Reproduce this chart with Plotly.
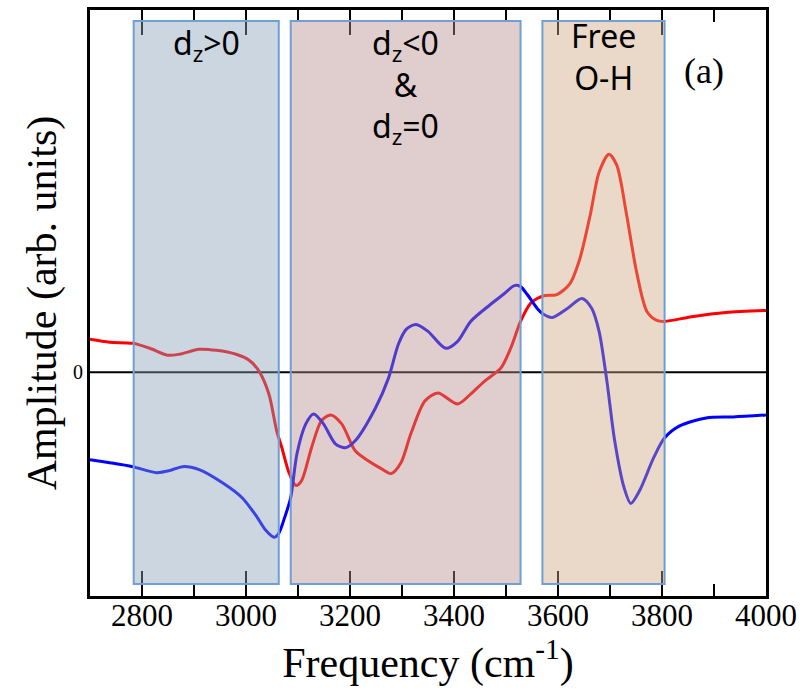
import plotly.graph_objects as go

# Spectra (frequency in cm^-1, amplitude in arbitrary units)
red_freq = [2700, 2738, 2782, 2815, 2849, 2872, 2910, 2943, 2981, 3006, 3025, 3044,
            3059, 3069, 3082, 3096, 3107, 3126, 3145, 3163, 3184, 3210, 3235, 3260,
            3279, 3298, 3317, 3344, 3369, 3407, 3432, 3459, 3490, 3509, 3528, 3547,
            3560, 3575, 3598, 3623, 3642, 3662, 3679, 3698, 3713, 3732, 3751, 3771,
            3790, 3805, 3860, 3923, 4000]
red_amp = [0.33, 0.30, 0.29, 0.24, 0.17, 0.18, 0.23, 0.22, 0.18, 0.12, 0.01, -0.22,
           -0.59, -0.76, -1.00, -1.14, -1.09, -0.76, -0.49, -0.43, -0.52, -0.79, -0.89, -0.97,
           -1.02, -0.91, -0.62, -0.29, -0.21, -0.32, -0.22, -0.09, 0.04, 0.24, 0.51, 0.69,
           0.74, 0.77, 0.78, 0.89, 1.14, 1.58, 2.01, 2.19, 2.08, 1.58, 1.01, 0.61,
           0.52, 0.51, 0.56, 0.60, 0.62]

blue_freq = [2700, 2738, 2782, 2828, 2853, 2878, 2910, 2954, 2992, 3019, 3038, 3054,
             3063, 3075, 3086, 3098, 3115, 3130, 3149, 3172, 3191, 3210, 3249, 3274,
             3293, 3308, 3327, 3350, 3384, 3407, 3432, 3470, 3497, 3516, 3528, 3541,
             3560, 3570, 3589, 3618, 3646, 3665, 3679, 3694, 3709, 3727, 3740, 3757,
             3784, 3805, 3834, 3885, 3937, 4000]
blue_amp = [-0.88, -0.91, -0.95, -1.01, -0.99, -0.95, -0.98, -1.11, -1.26, -1.44, -1.59, -1.66,
            -1.62, -1.45, -1.26, -0.82, -0.52, -0.42, -0.52, -0.72, -0.76, -0.69, -0.36, -0.06,
            0.28, 0.43, 0.48, 0.41, 0.24, 0.31, 0.51, 0.68, 0.79, 0.87, 0.86, 0.78,
            0.64, 0.59, 0.55, 0.64, 0.74, 0.64, 0.41, -0.09, -0.69, -1.16, -1.32, -1.19,
            -0.86, -0.66, -0.54, -0.46, -0.45, -0.43]

# Spectral regions: start, end, fill colour and label
region_start = [2784, 3086, 3570]
region_end = [3063, 3528, 3805]
region_fill = ["rgb(134,160,185)", "rgb(183,140,140)", "rgb(206,164,127)"]
region_label = ["d<sub>z</sub>>0",
                "d<sub>z</sub><0<br>&<br>d<sub>z</sub>=0",
                "Free<br>O-H"]

x_ticks = [2800, 3000, 3200, 3400, 3600, 3800, 4000]
y_lo, y_hi = -2.25, 3.64
box_lo, box_hi = -2.13, 3.53

serif = "Liberation Serif"
sans = "Noto Sans"

fig = go.Figure()

# zero reference line
fig.add_trace(go.Scatter(x=[2700, 4000], y=[0, 0], mode="lines",
                         line=dict(color="black", width=2), hoverinfo="skip",
                         showlegend=False))

fig.add_trace(go.Scatter(x=red_freq, y=red_amp, mode="lines",
                         line=dict(color="#ff0000", width=3, shape="spline", smoothing=0.8),
                         showlegend=False))
fig.add_trace(go.Scatter(x=blue_freq, y=blue_amp, mode="lines",
                         line=dict(color="#0000ff", width=3, shape="spline", smoothing=0.8),
                         showlegend=False))

shapes = []
annotations = []
label_font = dict(family=sans, size=32, color="black")
label_top = [3.55, 3.55, 3.62]
for x0, x1, c, lab, top in zip(region_start, region_end, region_fill, region_label, label_top):
    shapes.append(dict(type="rect", xref="x", yref="y", x0=x0, x1=x1, y0=box_lo, y1=box_hi,
                       fillcolor=c, opacity=0.43, line=dict(width=0), layer="above"))
    shapes.append(dict(type="rect", xref="x", yref="y", x0=x0, x1=x1, y0=box_lo, y1=box_hi,
                       fillcolor="rgba(0,0,0,0)", line=dict(color="#6f9fd4", width=2),
                       layer="above"))
    annotations.append(dict(x=(x0 + x1) / 2, y=top, yanchor="top", text=lab,
                            showarrow=False, font=label_font))

annotations.append(dict(x=3880, y=3.03, text="(a)", showarrow=False,
                        font=dict(family=serif, size=36, color="black")))

fig.update_layout(
    width=804, height=691,
    margin=dict(l=90, r=34, t=7, b=95),
    paper_bgcolor="white", plot_bgcolor="white",
    shapes=shapes, annotations=annotations,
    xaxis=dict(range=[2700, 4000], tickvals=x_ticks, ticktext=[str(v) for v in x_ticks],
               ticks="inside", ticklen=25, tickwidth=2, tickcolor="black",
               ticklabelstandoff=-10,
               minor=dict(dtick=100, tick0=2700, ticks="inside", ticklen=12, tickwidth=2,
                          tickcolor="black"),
               showline=True, linewidth=3, linecolor="black", mirror="ticks",
               showgrid=False, zeroline=False,
               tickfont=dict(family=serif, size=31, color="black"),
               title=dict(text="Frequency (cm<sup>-1</sup>)", standoff=4,
                          font=dict(family=serif, size=42, color="black"))),
    yaxis=dict(range=[y_lo, y_hi], tickvals=[0], ticktext=["0"], ticks="",
               showline=True, linewidth=3, linecolor="black", mirror=True,
               showgrid=False, zeroline=False,
               tickfont=dict(family=serif, size=20, color="black"),
               title=dict(text="Amplitude (arb. units)", standoff=4,
                          font=dict(family=serif, size=42, color="black"))),
)

fig.write_html("out.html")
